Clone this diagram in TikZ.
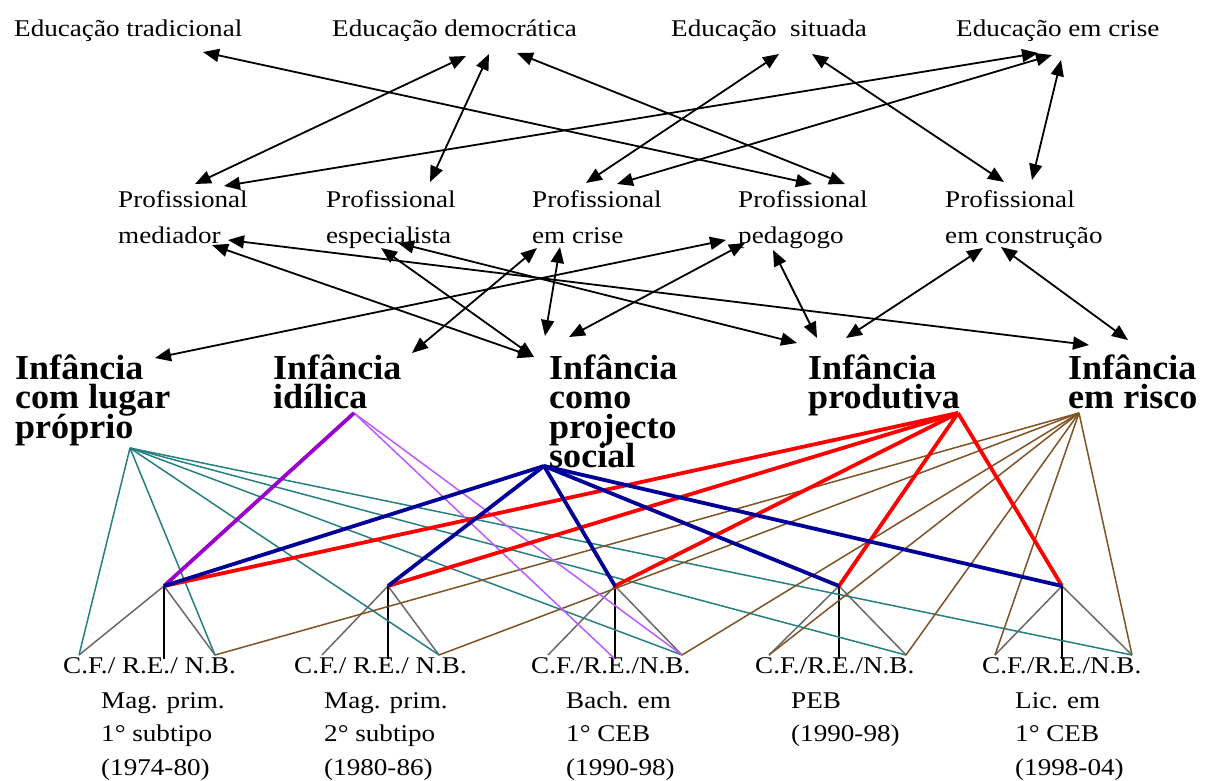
\documentclass[tikz,border=0pt]{standalone}
\usepackage{fontspec}
\setmainfont{Liberation Serif}
\newfontfamily\regfont{Liberation Serif}[FakeStretch=1.13]
\newfontfamily\hdfont{Liberation Serif}[FakeStretch=1.03]
\usetikzlibrary{arrows.meta}
\definecolor{tealc}{RGB}{38,128,128}
\definecolor{brownc}{RGB}{128,82,36}
\definecolor{violetc}{RGB}{153,0,204}
\definecolor{lilac}{RGB}{190,90,255}
\definecolor{navyc}{RGB}{0,0,153}
\definecolor{grayc}{RGB}{105,105,105}
\tikzset{
  txt/.style={inner sep=0pt, anchor=base west, align=left},
  toplbl/.style={txt, font=\regfont\fontsize{24}{36}\selectfont},
  midlbl/.style={txt, font=\regfont\fontsize{24}{36}\selectfont},
  inflbl/.style={txt, font=\hdfont\bfseries\fontsize{35}{29.5}\selectfont},
  botlbl/.style={txt, font=\regfont\fontsize{24}{33.5}\selectfont},
  biarrow/.style={{Triangle[length=16pt,width=13pt]}-{Triangle[length=16pt,width=13pt]}, line width=1.8pt, black},
  thinline/.style={line width=1.5pt},
  thickline/.style={line width=3.8pt},
}
\begin{document}
\lineskiplimit=-50pt\relax
\begin{tikzpicture}[x=1pt,y=-1pt]
\useasboundingbox (0,0) rectangle (1210,780);
\fill[white] (0,0) rectangle (1210,780);

% ---- top row (anchor = baseline of the last line)
\node[toplbl] (trad) at (14,36) {Educação tradicional};
\node[toplbl] (dem)  at (332,36) {Educação democrática};
\node[toplbl] (sit)  at (671,36) {Educação\ \ situada};
\node[toplbl] (cri)  at (956,36) {Educação em crise};

% ---- professional row
\node[midlbl] (med)  at (118,243) {Profissional\\mediador};
\node[midlbl] (esp)  at (326,243) {Profissional\\especialista};
\node[midlbl] (pcri) at (532,243) {Profissional\\em crise};
\node[midlbl] (ped)  at (738,243) {Profissional\\pedagogo};
\node[midlbl] (con)  at (945,243) {Profissional\\em construção};

% ---- infancia row
\node[inflbl] (lug)  at (15,438)     {Infância\\com lugar\\próprio};
\node[inflbl] (idi)  at (273,408.5)  {Infância\\idílica};
\node[inflbl] (proj) at (549,467.5)  {Infância\\como\\projecto\\social};
\node[inflbl] (prod) at (808,408.5)  {Infância\\produtiva};
\node[inflbl] (ris)  at (1068,408.5) {Infância\\em risco};

% ---- bottom labels
\node[botlbl] (g1) at (63,673)  {C.F./ R.E./ N.B.};
\node[botlbl] (g2) at (294,673) {C.F./ R.E./ N.B.};
\node[botlbl] (g3) at (531,673) {C.F./R.E./N.B.};
\node[botlbl] (g4) at (755,673) {C.F./R.E./N.B.};
\node[botlbl] (g5) at (982,673) {C.F./R.E./N.B.};
\node[botlbl] (l1) at (101,775)  {Mag. prim.\\1° subtipo\\(1974-80)};
\node[botlbl] (l2) at (324,775)  {Mag. prim.\\2° subtipo\\(1980-86)};
\node[botlbl] (l3) at (566,775)  {Bach. em\\1° CEB\\(1990-98)};
\node[botlbl] (l4) at (791,741.5) {PEB\\(1990-98)};
\node[botlbl] (l5) at (1015,775) {Lic. em\\1° CEB\\(1998-04)};

% ---- arrow end points
\coordinate (tTrad) at (203,52);
\coordinate (tDem1) at (466,56);
\coordinate (tDem2) at (489,54);
\coordinate (tDem3) at (517,53);
\coordinate (tSit1) at (779,54);
\coordinate (tSit2) at (812,54);
\coordinate (tCri1) at (1038,53);
\coordinate (tCri2) at (1052,55);
\coordinate (tCri3) at (1061,60);

\coordinate (mMed1) at (195,184);
\coordinate (mMed2) at (224,186);
\coordinate (mEsp)  at (430,182);
\coordinate (mCri1) at (586,183);
\coordinate (mCri2) at (617,184);
\coordinate (mPed1) at (812,184);
\coordinate (mPed2) at (845,184);
\coordinate (mCon1) at (1004,182);
\coordinate (mCon2) at (1032,180);

\coordinate (bMed1) at (212,245);
\coordinate (bMed2) at (228,240);
\coordinate (bEsp1) at (381,248);
\coordinate (bEsp2) at (398,243);
\coordinate (bCri1) at (537,248);
\coordinate (bCri2) at (560,247);
\coordinate (bPed1) at (726,240);
\coordinate (bPed2) at (745,243);
\coordinate (bPed3) at (773,250);
\coordinate (bCon1) at (983,248);
\coordinate (bCon2) at (1001,247);

\coordinate (iLug)   at (155,358);
\coordinate (iIdi)   at (412,353);
\coordinate (iPro1)  at (545,336);
\coordinate (iPro2)  at (569,337);
\coordinate (iPro3)  at (534,357);
\coordinate (iProd1) at (797,343);
\coordinate (iProd2) at (817,338);
\coordinate (iProd3) at (846,338);
\coordinate (iRis1)  at (1089,345);
\coordinate (iRis2)  at (1128,340);

% ---- arrows: education <-> professional
\draw[biarrow] (tTrad) -- (mPed1);
\draw[biarrow] (tDem1) -- (mMed1);
\draw[biarrow] (tDem2) -- (mEsp);
\draw[biarrow] (tDem3) -- (mPed2);
\draw[biarrow] (tSit1) -- (mCri1);
\draw[biarrow] (tSit2) -- (mCon1);
\draw[biarrow] (tCri1) -- (mMed2);
\draw[biarrow] (tCri2) -- (mCri2);
\draw[biarrow] (tCri3) -- (mCon2);

% ---- arrows: professional <-> infancia
\draw[biarrow] (bMed1) -- (iPro3);
\draw[biarrow] (bMed2) -- (iRis1);
\draw[biarrow] (bEsp1) -- (iPro3);
\draw[biarrow] (bEsp2) -- (iProd1);
\draw[biarrow] (bCri1) -- (iIdi);
\draw[biarrow] (bCri2) -- (iPro1);
\draw[biarrow] (bPed1) -- (iLug);
\draw[biarrow] (bPed2) -- (iPro2);
\draw[biarrow] (bPed3) -- (iProd2);
\draw[biarrow] (bCon1) -- (iProd3);
\draw[biarrow] (bCon2) -- (iRis2);

% ---- lower network points
\coordinate (A1) at (130,448);
\coordinate (A2) at (354,413);
\coordinate (A3) at (544,466);
\coordinate (A4) at (958,413);
\coordinate (A5) at (1079,413);
\foreach \i/\xj/\xa/\xc in {1/164/79/215, 2/388/322/439, 3/615/548/682, 4/839/769/906, 5/1062/995/1132}{
  \coordinate (J\i) at (\xj,586);
  \coordinate (R\i) at (\xj,659);
  \coordinate (L\i) at (\xa,655);
  \coordinate (C\i) at (\xc,655);
}

% gray and black stems
\foreach \i in {1,...,5}{
  \draw[grayc, thinline] (L\i) -- (J\i) -- (C\i);
  \draw[black, line width=1.8pt] (J\i) -- (R\i);
}

% teal from "com lugar proprio"
\foreach \p in {L1,C1,C2,C3,C4,C5}{ \draw[tealc, thinline] (A1) -- (\p); }
% brown from "em risco"
\foreach \p in {C1,C2,C3,L4,C4,L5,C5}{ \draw[brownc, thinline] (A5) -- (\p); }
% purple from "idilica"
\draw[lilac, thinline] (A2) -- (R3);
\draw[lilac, thinline] (A2) -- (C3);
\draw[violetc, thickline] (A2) -- (J1);
% red from "produtiva"
\foreach \i in {1,...,5}{ \draw[red, thickline] (A4) -- (J\i); }
% blue from "projecto social"
\foreach \i in {1,...,5}{ \draw[navyc, thickline] (A3) -- (J\i); }
\end{tikzpicture}
\end{document}
